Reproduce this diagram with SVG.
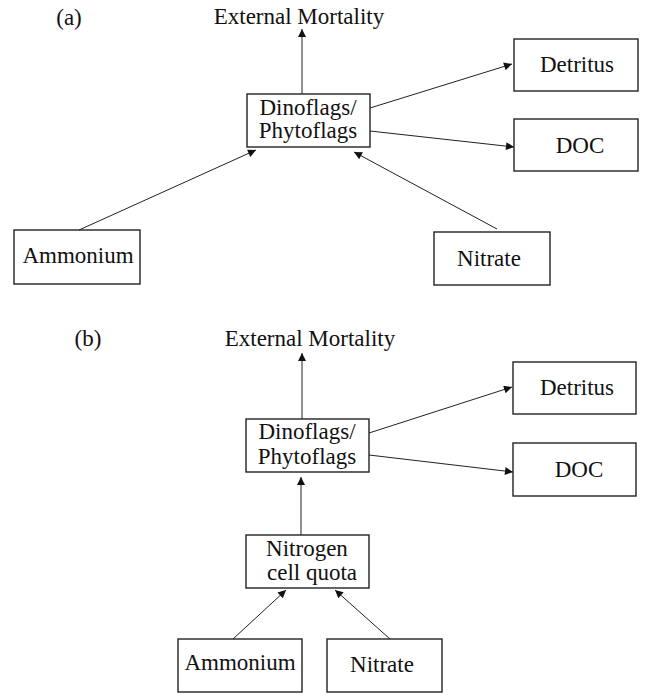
<svg xmlns="http://www.w3.org/2000/svg" width="648" height="698" viewBox="0 0 648 698">
<style>
.box{fill:#fff;stroke:#222;stroke-width:1.4}
.t{font-family:"Liberation Serif","Times New Roman",serif;font-size:23px;fill:#111;text-anchor:middle}
.e{stroke:#222;stroke-width:1;fill:none;marker-end:url(#ah)}
</style>
<defs>
<marker id="ah" viewBox="0 0 10 10" refX="10" refY="5" markerWidth="9" markerHeight="8" markerUnits="userSpaceOnUse" orient="auto">
<path d="M0,0L10,5L0,10z" fill="#111"/>
</marker>
</defs>
<rect width="648" height="698" fill="#fff"/>
<text class="t" x="69" y="25">(a)</text>
<text class="t" x="88" y="346">(b)</text>
<g id="a-ext"><text class="t" x="299" y="24">External Mortality</text></g>
<g id="a-dino"><rect class="box" x="247" y="94" width="123" height="53"/><text class="t" x="308" y="115">Dinoflags/</text><text class="t" x="308" y="138">Phytoflags</text></g>
<g id="a-detritus"><rect class="box" x="514" y="39" width="124" height="52"/><text class="t" x="577" y="72">Detritus</text></g>
<g id="a-doc"><rect class="box" x="514" y="119" width="124" height="52"/><text class="t" x="580" y="153">DOC</text></g>
<g id="a-ammonium"><rect class="box" x="14" y="230" width="126" height="54"/><text class="t" x="78" y="263">Ammonium</text></g>
<g id="a-nitrate"><rect class="box" x="434" y="232" width="116" height="53"/><text class="t" x="489" y="266">Nitrate</text></g>
<g id="b-ext"><text class="t" x="310" y="346">External Mortality</text></g>
<g id="b-dino"><rect class="box" x="246" y="419" width="123" height="53"/><text class="t" x="307" y="439">Dinoflags/</text><text class="t" x="307" y="464">Phytoflags</text></g>
<g id="b-detritus"><rect class="box" x="513" y="362" width="123" height="52"/><text class="t" x="577" y="395">Detritus</text></g>
<g id="b-doc"><rect class="box" x="513" y="443" width="123" height="53"/><text class="t" x="579" y="477">DOC</text></g>
<g id="b-nquota"><rect class="box" x="246" y="535" width="123" height="53"/><text class="t" x="307" y="556">Nitrogen</text><text class="t" x="312" y="580">cell quota</text></g>
<g id="b-ammonium"><rect class="box" x="178" y="639" width="124" height="53"/><text class="t" x="240" y="670">Ammonium</text></g>
<g id="b-nitrate"><rect class="box" x="327" y="639" width="115" height="53"/><text class="t" x="382" y="672">Nitrate</text></g>
<g id="connectors">
<line class="e" x1="302" y1="94" x2="302" y2="29"/>
<line class="e" x1="370" y1="108" x2="512" y2="64"/>
<line class="e" x1="370" y1="131" x2="514" y2="147"/>
<line class="e" x1="79" y1="230" x2="256" y2="150"/>
<line class="e" x1="497" y1="229" x2="354" y2="152"/>
<line class="e" x1="302" y1="419" x2="302" y2="353"/>
<line class="e" x1="369" y1="433" x2="512" y2="387"/>
<line class="e" x1="369" y1="455" x2="513" y2="472"/>
<line class="e" x1="301" y1="535" x2="301" y2="477"/>
<line class="e" x1="233" y1="639" x2="286" y2="590"/>
<line class="e" x1="390" y1="639" x2="335" y2="590"/>
</g>
</svg>
